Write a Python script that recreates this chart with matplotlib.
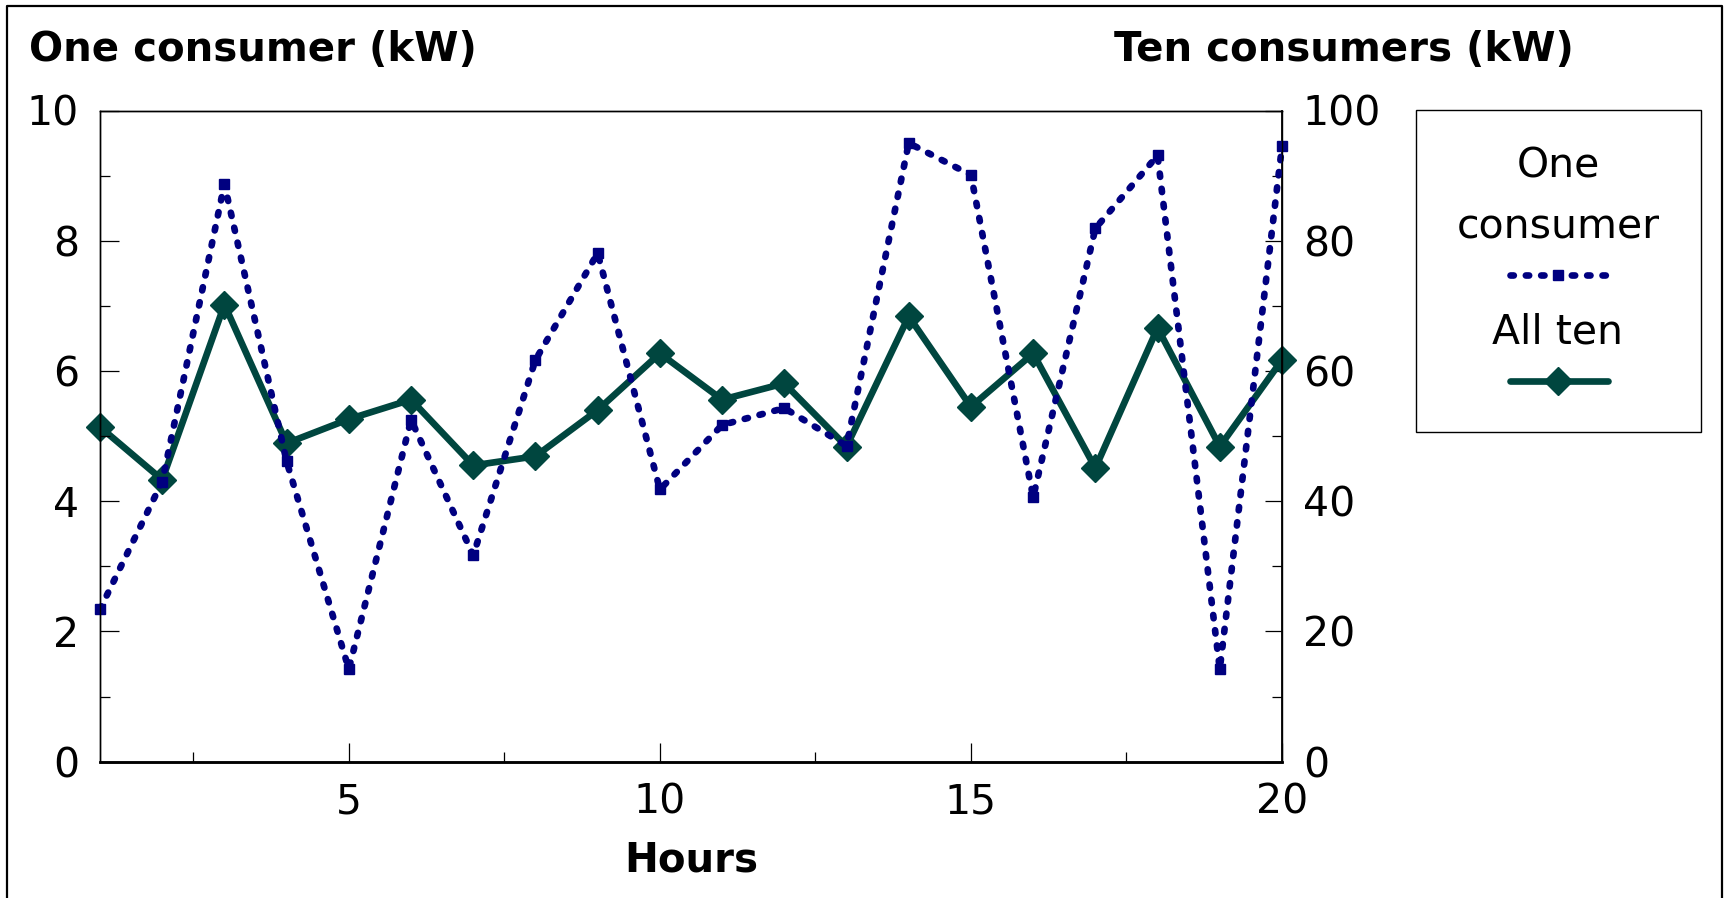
import matplotlib
matplotlib.use("Agg")
import matplotlib.pyplot as plt
from matplotlib.lines import Line2D
from matplotlib.patches import Rectangle
from matplotlib.ticker import MultipleLocator

plt.rcParams['font.family'] = ['DejaVu Sans']

# ---- data ----
hours = list(range(1, 21))
one_consumer = [2.34, 4.3, 8.87, 4.61, 1.42, 5.25, 3.17, 6.17, 7.81, 4.18,
                5.17, 5.43, 4.85, 9.50, 9.01, 4.06, 8.19, 9.31, 1.42, 9.45]
all_ten = [51.4, 43.3, 70.2, 48.9, 52.6, 55.6, 45.5, 46.9, 54.0, 62.7,
           55.6, 58.1, 48.4, 68.4, 54.5, 62.7, 45.1, 66.6, 48.4, 61.7]
left_label = "One consumer (kW)"
right_label = "Ten consumers (kW)"
x_label = "Hours"
legend_one = "One\nconsumer"
legend_ten = "All ten"

NAVY = '#000080'
TEAL = '#00463F'
FS = 29.5
FSB = 29

DOT = (0, (0.5, 1.8))

W, H = 1728, 898
fig = plt.figure(figsize=(W / 100, H / 100), dpi=100)

ax = fig.add_axes([100 / W, 1 - 761.7 / H, 1182 / W, 651.2 / H])
ax2 = ax.twinx()
ax.set_zorder(ax2.get_zorder() + 1)
ax.patch.set_visible(False)

# All ten on secondary axis (drawn beneath)
ax2.plot(hours, all_ten, color=TEAL, lw=4.8, marker='D', ms=14.5,
         markeredgecolor=TEAL, markerfacecolor=TEAL, solid_joinstyle='miter',
         clip_on=False)
# One consumer on primary axis (on top)
ax.plot(hours, one_consumer, color=NAVY, lw=4.8, linestyle=DOT,
        dash_capstyle='round', marker='s', ms=7.5, markeredgecolor=NAVY,
        markerfacecolor=NAVY, clip_on=False)

ax.set_xlim(1, 20)
ax.set_ylim(0, 10)
ax2.set_ylim(0, 100)

ax.xaxis.set_major_locator(MultipleLocator(5))
ax.xaxis.set_minor_locator(MultipleLocator(2.5))
ax.yaxis.set_major_locator(MultipleLocator(2))
ax.yaxis.set_minor_locator(MultipleLocator(1))
ax2.yaxis.set_major_locator(MultipleLocator(20))
ax2.yaxis.set_minor_locator(MultipleLocator(10))

ax.tick_params(axis='both', which='major', direction='in', length=13.5,
               width=0.9, labelsize=FS, pad=15, colors='black')
ax.tick_params(axis='both', which='minor', direction='in', length=7,
               width=0.9)
ax.tick_params(axis='y', which='both', right=False)
ax.tick_params(axis='x', which='both', top=False)
ax2.tick_params(axis='y', which='major', direction='in', length=12.5,
                width=0.9, labelsize=FS, pad=15)
ax2.tick_params(axis='y', which='minor', direction='in', length=7, width=0.9)

for a in (ax, ax2):
    for side, sp in a.spines.items():
        sp.set_linewidth(1.0)
        sp.set_color('black')
ax.spines['bottom'].set_linewidth(1.8)
ax2.spines['bottom'].set_linewidth(1.8)
ax2.spines['right'].set_linewidth(1.3)

ax.set_xlabel(x_label, fontsize=FSB, fontweight='bold')
ax.xaxis.label.set_va('baseline')
ax.xaxis.set_label_coords(0.5, (1 - 871 / H - (1 - 761.7 / H)) / (651.2 / H))

fig.text(28.7 / W, 1 - 61 / H, left_label, ha='left', va='baseline',
         fontsize=FSB, fontweight='bold')
fig.text(1573.6 / W, 1 - 61 / H, right_label, ha='right', va='baseline',
         fontsize=FSB, fontweight='bold')

# ---- legend box (Excel-style, text above sample) ----
fig.patches.append(Rectangle((1416 / W, 1 - 431.7 / H), 285 / W, 321.7 / H,
                             transform=fig.transFigure, fill=False,
                             edgecolor='black', lw=1.0))
cx = 1558 / W
fig.text(cx, 1 - 178 / H, legend_one.split('\n')[0], ha='center',
         va='baseline', fontsize=FS)
fig.text(cx, 1 - 237 / H, legend_one.split('\n')[1], ha='center',
         va='baseline', fontsize=FS)
fig.text(cx, 1 - 343 / H, legend_ten, ha='center', va='baseline', fontsize=FS)
lx0, lx1 = 1510 / W, 1608 / W
y1 = 1 - 275 / H
y2 = 1 - 381 / H
fig.lines.append(Line2D([lx0, lx1], [y1, y1], transform=fig.transFigure,
                        color=NAVY, lw=4.8, linestyle=DOT,
                        dash_capstyle='round'))
fig.lines.append(Line2D([cx], [y1], transform=fig.transFigure, color=NAVY,
                        marker='s', ms=7.5, lw=0))
fig.lines.append(Line2D([lx0, lx1], [y2, y2], transform=fig.transFigure,
                        color=TEAL, lw=4.8, solid_capstyle='round'))
fig.lines.append(Line2D([cx], [y2], transform=fig.transFigure, color=TEAL,
                        marker='D', ms=14.5, lw=0))

# ---- outer border (left, top, right) ----
bx0, bx1, by = 7 / W, 1721.5 / W, 1 - 6 / H
fig.lines.append(Line2D([bx0, bx0, bx1, bx1], [-0.01, by, by, -0.01],
                        transform=fig.transFigure, color='black', lw=1.6))

fig.savefig('out.png', dpi=100)
